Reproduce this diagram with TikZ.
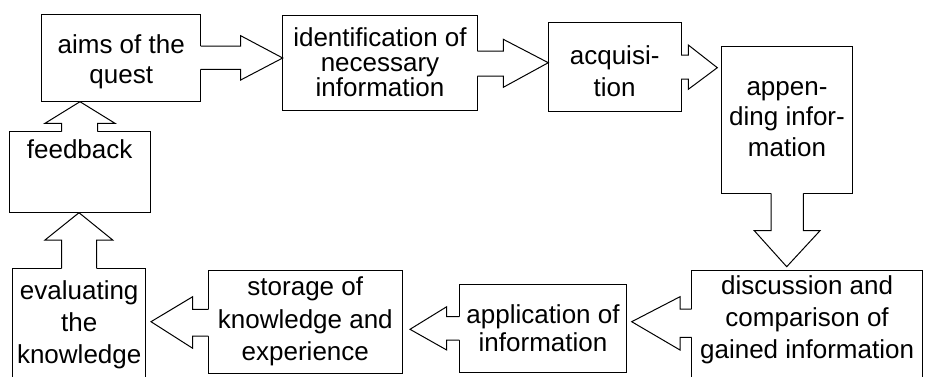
\documentclass[tikz,border=0pt]{standalone}
\usepackage{fontspec}
\setmainfont{Liberation Sans}
\usetikzlibrary{calc}
\begin{document}
\begin{tikzpicture}[x=1pt,y=-1pt,line width=1pt,
  box/.style={draw, line width=1pt, inner sep=0pt, outer sep=0pt, anchor=north west},
  txt/.style={font=\fontsize{26}{#1}\selectfont, align=center, inner sep=0pt},
  txt/.default=30,
  arrline/.style={draw, line width=1pt, line join=miter}]
\useasboundingbox (0,0) rectangle (928,376);
\clip (0,0) rectangle (928,376);
\fill[white] (0,0) rectangle (928,376);

% boxes
\node[box, minimum width=159, minimum height=87.7,
  label={[txt=30, yshift=-3.7]center:aims of the\\quest}] (aims) at (41.7,14) {};
\node[box, minimum width=194.6, minimum height=95.4,
  label={[txt=25, yshift=0.5]center:identification of\\necessary\\information}] (ident) at (282.7,15.3) {};
\node[box, minimum width=132.7, minimum height=88.6,
  label={[txt=31.7, yshift=-4.5]center:acquisi-\\tion}] (acq) at (548.3,22.7) {};
\node[box, minimum width=130.6, minimum height=147.3,
  label={[txt=30.8, yshift=0.6]center:appen-\\ding infor-\\mation}] (app) at (721.7,46) {};
\node[box, minimum width=230.8, minimum height=130,
  label={[txt=31.7, yshift=15.1]center:discussion and\\comparison of\\gained information}] (disc) at (691.7,270) {};
\node[box, minimum width=167.4, minimum height=87.7,
  label={[txt=28.4, yshift=0]center:application of\\information}] (applic) at (459.3,284.3) {};
\node[box, minimum width=194, minimum height=103.3,
  label={[txt=32.5, yshift=0]center:storage of\\knowledge and\\experience}] (storage) at (208.3,270) {};
\node[box, minimum width=133, minimum height=131.7,
  label={[txt=31.7, yshift=9.2]center:evaluating\\the\\knowledge}] (eval) at (12.7,268.3) {};
\node[box, minimum width=140.7, minimum height=81,
  label={[txt=30, yshift=23.4]center:feedback}] (fb) at (9.3,131.7) {};

% aims -> identification
\fill[white] ($(aims.east |- 0,46)+(-1.5,0)$) -- (240.7,46) -- (240.7,35.7) -- (ident.west |- 0,58)
  -- (240.7,80) -- (240.7,69.3) -- ($(aims.east |- 0,69.3)+(-1.5,0)$) -- cycle;
\draw[arrline] (aims.east |- 0,46) -- (240.7,46) -- (240.7,35.7) -- (ident.west |- 0,58)
  -- (240.7,80) -- (240.7,69.3) -- (aims.east |- 0,69.3);

% identification -> acquisition
\fill[white] ($(ident.east |- 0,51)+(-1.5,0)$) -- (503.3,51) -- (503.3,39.3) -- (acq.west |- 0,62.7)
  -- (503.3,87.3) -- (503.3,76) -- ($(ident.east |- 0,76)+(-1.5,0)$) -- cycle;
\draw[arrline] (ident.east |- 0,51) -- (503.3,51) -- (503.3,39.3) -- (acq.west |- 0,62.7)
  -- (503.3,87.3) -- (503.3,76) -- (ident.east |- 0,76);

% acquisition -> appending
\fill[white] ($(acq.east |- 0,55)+(-1.5,0)$) -- (688.3,55) -- (688.3,45) -- ($(app.west |- 0,67.7)+(-4.4,0)$)
  -- (688.3,89.3) -- (688.3,79) -- ($(acq.east |- 0,79)+(-1.5,0)$) -- cycle;
\draw[arrline] (acq.east |- 0,55) -- (688.3,55) -- (688.3,45) -- ($(app.west |- 0,67.7)+(-4.4,0)$)
  -- (688.3,89.3) -- (688.3,79) -- (acq.east |- 0,79);

% appending -> discussion
\fill[white] ($(app.south -| 771,0)+(0,-1.5)$) -- (771,230.7) -- (754.3,230.7) -- ($(disc.north -| 786.7,0)+(0,-3.3)$)
  -- (820,230.7) -- (803.3,230.7) -- ($(app.south -| 803.3,0)+(0,-1.5)$) -- cycle;
\draw[arrline] (app.south -| 771,0) -- (771,230.7) -- (754.3,230.7) -- ($(disc.north -| 786.7,0)+(0,-3.3)$)
  -- (820,230.7) -- (803.3,230.7) -- (app.south -| 803.3,0);

% discussion -> application
\fill[white] ($(disc.west |- 0,309)+(1.5,0)$) -- (680,309) -- (680,296.7) -- ($(applic.east |- 0,321.7)+(5,0)$)
  -- (680,350) -- (680,337.3) -- ($(disc.west |- 0,337.3)+(1.5,0)$) -- cycle;
\draw[arrline] (disc.west |- 0,309) -- (680,309) -- (680,296.7) -- ($(applic.east |- 0,321.7)+(5,0)$)
  -- (680,350) -- (680,337.3) -- (disc.west |- 0,337.3);

% application -> storage
\fill[white] ($(applic.west |- 0,316.7)+(1.5,0)$) -- (446.7,316.7) -- (446.7,306.7) -- ($(storage.east |- 0,329.3)+(7.7,0)$)
  -- (446.7,350) -- (446.7,340) -- ($(applic.west |- 0,340)+(1.5,0)$) -- cycle;
\draw[arrline] (applic.west |- 0,316.7) -- (446.7,316.7) -- (446.7,306.7) -- ($(storage.east |- 0,329.3)+(7.7,0)$)
  -- (446.7,350) -- (446.7,340) -- (applic.west |- 0,340);

% storage -> evaluating
\fill[white] ($(storage.west |- 0,309.3)+(1.5,0)$) -- (192.7,309.3) -- (192.7,296.7) -- ($(eval.east |- 0,321.7)+(5.3,0)$)
  -- (192.7,348.3) -- (192.7,336) -- ($(storage.west |- 0,336)+(1.5,0)$) -- cycle;
\draw[arrline] (storage.west |- 0,309.3) -- (192.7,309.3) -- (192.7,296.7) -- ($(eval.east |- 0,321.7)+(5.3,0)$)
  -- (192.7,348.3) -- (192.7,336) -- (storage.west |- 0,336);

% evaluating -> feedback
\fill[white] ($(eval.north -| 61.7,0)+(0,1.5)$) -- (61.7,240) -- (45,240) -- (fb.south -| 79,0)
  -- (112.7,240) -- (96.7,240) -- ($(eval.north -| 96.7,0)+(0,1.5)$) -- cycle;
\draw[arrline] (eval.north -| 61.7,0) -- (61.7,240) -- (45,240) -- (fb.south -| 79,0)
  -- (112.7,240) -- (96.7,240) -- (eval.north -| 96.7,0);

% feedback -> aims
\fill[white] ($(fb.north -| 61.7,0)+(0,1.5)$) -- (61.7,123.3) -- (45,123.3) -- (aims.south -| 80,0)
  -- (115,123.3) -- (97.7,123.3) -- ($(fb.north -| 97.7,0)+(0,1.5)$) -- cycle;
\draw[arrline] (fb.north -| 61.7,0) -- (61.7,123.3) -- (45,123.3) -- (aims.south -| 80,0)
  -- (115,123.3) -- (97.7,123.3) -- (fb.north -| 97.7,0);
\end{tikzpicture}
\end{document}
